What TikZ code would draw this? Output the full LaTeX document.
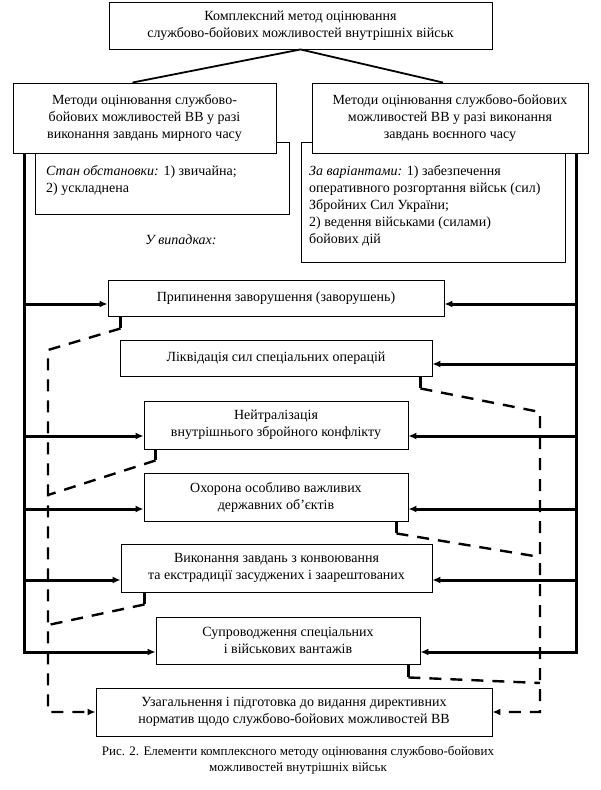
\documentclass[tikz,border=0pt]{standalone}
\usepackage{fontspec}
\setmainfont{Liberation Serif}
\usetikzlibrary{arrows.meta}

\tikzset{
  box/.style={shape=rectangle,draw=black,fill=white,align=center,inner sep=0pt,line width=0.9pt,font=\fontsize{14}{17}\selectfont},
  subbox/.style={shape=rectangle,draw=black,fill=white,anchor=north west,inner sep=0pt,line width=0.9pt},
  note/.style={anchor=north west,align=left,inner sep=0pt,font=\fontsize{14}{17}\selectfont},
  bus/.style={draw=black,line width=3pt},
  stub/.style={draw=black,line width=2.4pt},
  link/.style={draw=black,line width=2.4pt,dash pattern=on 12pt off 9pt},
  tip/.style={-{Latex[length=8pt,width=7pt]}},
}

\begin{document}
\begin{tikzpicture}[x=1pt,y=-1pt]
\useasboundingbox (0,0) rectangle (601,790);

% header and the two method boxes
\node[box,minimum width=383pt,minimum height=47pt] (0) at (300.5,25.5) {Комплексний метод оцінювання\\службово-бойових можливостей внутрішніх військ};
\node[subbox,minimum width=254pt,minimum height=72pt] (3) at (35,142) {};
\node[subbox,minimum width=264pt,minimum height=120pt] (5) at (301,142) {};
\node[box,minimum width=263pt,minimum height=70pt] (1) at (144.5,118) {Методи оцінювання службово-\\бойових можливостей ВВ у разі\\виконання завдань мирного часу};
\node[box,minimum width=276pt,minimum height=70pt] (2) at (450,118) {Методи оцінювання службово-бойових\\можливостей ВВ у разі виконання\\завдань воєнного часу};
\node[note] (4) at (46,165) {\textit{Стан обстановки:} 1) звичайна;\\2) ускладнена};
\node[note] (6) at (309,165) {\textit{За варіантами:} 1) забезпечення\\оперативного розгортання військ (сил)\\Збройних Сил України;\\2) ведення військами (силами)\\бойових дій};
\node[note,anchor=center,font=\fontsize{14}{17}\selectfont\itshape] (7) at (181,240) {У випадках:};

% cases
\node[box,minimum width=336pt,minimum height=36pt] (8) at (276,298) {Припинення заворушення (заворушень)};
\node[box,minimum width=312pt,minimum height=36pt] (9) at (276,358) {Ліквідація сил спеціальних операцій};
\node[box,minimum width=264pt,minimum height=48pt] (10) at (276,425) {Нейтралізація\\внутрішнього збройного конфлікту};
\node[box,minimum width=264pt,minimum height=48pt] (11) at (276,497) {Охорона особливо важливих\\державних об’єктів};
\node[box,minimum width=311pt,minimum height=48pt] (12) at (276.5,568) {Виконання завдань з конвоювання\\та екстрадиції засуджених і заарештованих};
\node[box,minimum width=264pt,minimum height=47pt] (13) at (288,640.5) {Супроводження спеціальних\\і військових вантажів};
\node[box,minimum width=396pt,minimum height=48pt] (14) at (294,712) {Узагальнення і підготовка до видання директивних\\норматив щодо службово-бойових можливостей ВВ};
\node[align=center,inner sep=0pt,font=\fontsize{13}{15.5}\selectfont] (15) at (298,760) {Рис. 2. Елементи комплексного методу оцінювання службово-бойових\\можливостей внутрішніх військ};

\draw[line width=1.8pt] ([xshift=-12pt]1.north) -- (0.south) -- ([xshift=-7pt]2.north);

% buses
\coordinate (L) at (24,153);
\coordinate (R) at (576,153);
\coordinate (p8) at ([yshift=-6pt]8.west);
\coordinate (p10) at ([yshift=-11pt]10.west);
\coordinate (p11) at ([yshift=-12pt]11.west);
\coordinate (p12) at ([yshift=-12pt]12.west);
\coordinate (p13) at ([yshift=-11.5pt]13.west);
\coordinate (q8) at ([yshift=-6pt]8.east);
\coordinate (q9) at ([yshift=-6pt]9.east);
\coordinate (q10) at ([yshift=-11pt]10.east);
\coordinate (q11) at ([yshift=-12pt]11.east);
\coordinate (q12) at ([yshift=-12pt]12.east);
\coordinate (q13) at ([yshift=-11.5pt]13.east);

\path [bus,tip] (L) |- (p13);
\path [bus,tip] (L |- p8) -- (p8);
\path [bus,tip] (L |- p10) -- (p10);
\path [bus,tip] (L |- p11) -- (p11);
\path [bus,tip] (L |- p12) -- (p12);
\path [bus,tip] (R) |- (q13);
\path [bus,tip] (R |- q8) -- (q8);
\path [bus,tip] (R |- q9) -- (q9);
\path [bus,tip] (R |- q10) -- (q10);
\path [bus,tip] (R |- q11) -- (q11);
\path [bus,tip] (R |- q12) -- (q12);

% dashed links to the summary box
\coordinate (DL) at (48,350);
\coordinate (DR) at (540,412);
\coordinate (j10) at (48,495);
\coordinate (j12) at (48,625);
\coordinate (j11) at (540,557);
\coordinate (j13) at (540,683);

\path [stub] ([xshift=13pt]8.south west) -- ++(0,12) coordinate (t8);
\path [stub] ([xshift=-12pt]9.south east) -- ++(0,12) coordinate (t9);
\path [stub] ([xshift=12pt]10.south west) -- ++(0,11) coordinate (t10);
\path [stub] ([xshift=-12pt]11.south east) -- ++(0,12) coordinate (t11);
\path [stub] ([xshift=24pt]12.south west) -- ++(0,12) coordinate (t12);
\path [stub] ([xshift=-12pt]13.south east) -- ++(0,13) coordinate (t13);

\path [link,tip] (t8) -- (DL) |- (14.west);
\path [link,tip] (t9) -- (DR) |- (14.east);
\path [link] (t10) -- (j10);
\path [link] (t12) -- (j12);
\path [link] (t11) -- (j11);
\path [link] (t13) -- (j13);
\end{tikzpicture}
\end{document}
